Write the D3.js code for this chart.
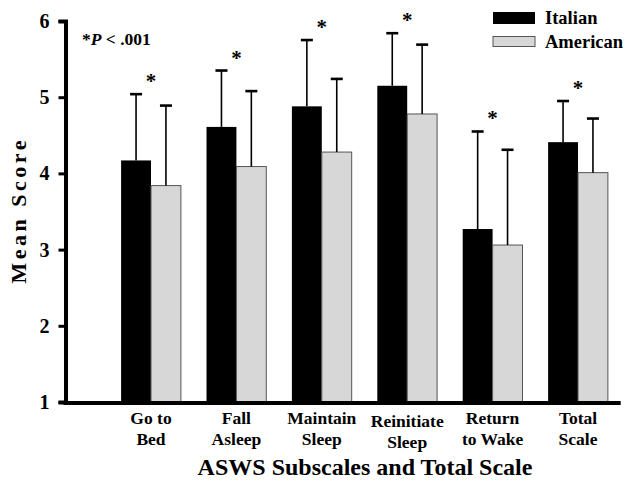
<!DOCTYPE html>
<html>
<head>
<meta charset="utf-8">
<script src="https://cdn.jsdelivr.net/npm/d3@7"></script>
<style>
  body { margin: 0; background: #fff; }
  svg { display: block; }
</style>
</head>
<body>
<div id="chart"></div>
<script>
const categories = [["Go to", "Bed"], ["Fall", "Asleep"], ["Maintain", "Sleep"], ["Reinitiate", "Sleep"], ["Return", "to Wake"], ["Total", "Scale"]]
const series = ["Italian", "American"]
const italianMean = [4.17, 4.61, 4.88, 5.15, 3.27, 4.41]
const italianUpper = [5.04, 5.35, 5.75, 5.84, 4.55, 4.95]
const americanMean = [3.84, 4.09, 4.28, 4.78, 3.06, 4.01]
const americanUpper = [4.89, 5.08, 5.24, 5.69, 4.31, 4.72]
const yTicks = [1, 2, 3, 4, 5, 6]

const width = 624, height = 481
const font = "'Liberation Serif', 'Times New Roman', serif"
const colors = {Italian: "#000", American: "#d7d7d7"}

const svg = d3.select("#chart").append("svg")
    .attr("width", width)
    .attr("height", height)

const catNames = categories.map(c => c.join(" "))
const x = d3.scaleBand()
    .domain(catNames)
    .range([108.3, 620.7])
    .paddingInner(0.3)
    .paddingOuter(0.15)
const xSub = d3.scaleBand()
    .domain(series)
    .range([0, x.bandwidth()])
const y = d3.scaleLinear()
    .domain([1, 6])
    .range([402, 21])

const data = catNames.map((c, i) => ({
    cat: c,
    bars: [
        {s: "Italian", v: italianMean[i], up: italianUpper[i]},
        {s: "American", v: americanMean[i], up: americanUpper[i]}
    ]
}))

// bars
const groups = svg.append("g")
    .selectAll("g")
    .data(data)
    .join("g")
    .attr("transform", d => `translate(${x(d.cat)},0)`)

groups.selectAll("rect")
    .data(d => d.bars)
    .join("rect")
    .attr("x", d => xSub(d.s))
    .attr("y", d => y(d.v))
    .attr("width", xSub.bandwidth())
    .attr("height", d => y(1) - y(d.v))
    .attr("fill", d => colors[d.s])
    .attr("stroke", d => d.s === "American" ? "#555" : "none")
    .attr("stroke-width", 1)

// error bars
const err = groups.selectAll("g.err")
    .data(d => d.bars)
    .join("g")
    .attr("class", "err")
    .attr("stroke", "#000")
err.append("line")
    .attr("x1", d => xSub(d.s) + xSub.bandwidth() / 2)
    .attr("x2", d => xSub(d.s) + xSub.bandwidth() / 2)
    .attr("y1", d => y(d.v))
    .attr("y2", d => y(d.up))
    .attr("stroke-width", 1.6)
err.append("line")
    .attr("x1", d => xSub(d.s) + xSub.bandwidth() / 2 - 6)
    .attr("x2", d => xSub(d.s) + xSub.bandwidth() / 2 + 6)
    .attr("y1", d => y(d.up))
    .attr("y2", d => y(d.up))
    .attr("stroke-width", 2.6)

// significance stars
groups.append("text")
    .attr("x", x.bandwidth() / 2)
    .attr("y", d => y(d3.max(d.bars, b => b.up)) - 6)
    .attr("text-anchor", "middle")
    .attr("font-family", font)
    .attr("font-weight", "bold")
    .attr("font-size", 21)
    .text("*")

// y axis
const yAxis = svg.append("g")
    .attr("transform", "translate(65.5,0)")
    .call(d3.axisLeft(y).tickValues(yTicks).tickFormat(d3.format("d")).tickSize(7).tickPadding(9))
yAxis.select(".domain").attr("stroke-width", 4)
yAxis.selectAll(".tick line").attr("stroke-width", 3)
yAxis.selectAll(".tick text")
    .attr("font-family", font)
    .attr("font-weight", "bold")
    .attr("font-size", 20)
    .attr("fill", "#000")

// x axis line
svg.append("line")
    .attr("x1", 63.5)
    .attr("x2", x.range()[1])
    .attr("y1", y(1) + 1)
    .attr("y2", y(1) + 1)
    .attr("stroke", "#000")
    .attr("stroke-width", 4)

// x labels
const xl = svg.append("g")
    .selectAll("text")
    .data(categories)
    .join("text")
    .attr("font-family", font)
    .attr("font-weight", "bold")
    .attr("font-size", 17.5)
    .attr("text-anchor", "middle")
    .attr("transform", (d, i) => `translate(${x(catNames[i]) + x.bandwidth() / 2},${i === 3 ? 427 : 424})`)
xl.selectAll("tspan")
    .data(d => d)
    .join("tspan")
    .attr("x", 0)
    .attr("y", (d, i) => i * 20.5)
    .text(d => d)

// axis titles
svg.append("text")
    .attr("x", 365)
    .attr("y", 475)
    .attr("text-anchor", "middle")
    .attr("font-family", font)
    .attr("font-weight", "bold")
    .attr("font-size", 24)
    .text("ASWS Subscales and Total Scale")

svg.append("text")
    .attr("transform", "translate(26,212) rotate(-90)")
    .attr("text-anchor", "middle")
    .attr("font-family", font)
    .attr("font-weight", "bold")
    .attr("font-size", 22)
    .attr("textLength", 143)
    .attr("lengthAdjust", "spacing")
    .text("Mean Score")

// p-value note
const note = svg.append("text")
    .attr("x", 82)
    .attr("y", 45)
    .attr("font-family", font)
    .attr("font-weight", "bold")
    .attr("font-size", 17.5)
note.append("tspan").text("*")
note.append("tspan").attr("font-style", "italic").text("P")
note.append("tspan").text(" < .001")

// legend
const legend = svg.append("g")
    .selectAll("g")
    .data(series)
    .join("g")
    .attr("transform", (d, i) => `translate(493,${12 + i * 24.5})`)
legend.append("rect")
    .attr("width", 42)
    .attr("height", d => d === "Italian" ? 12 : 10)
    .attr("fill", d => colors[d])
    .attr("stroke", d => d === "American" ? "#555" : "none")
legend.append("text")
    .attr("x", 52)
    .attr("y", 11.5)
    .attr("font-family", font)
    .attr("font-weight", "bold")
    .attr("font-size", 18.5)
    .text(d => d)
</script>
</body>
</html>
